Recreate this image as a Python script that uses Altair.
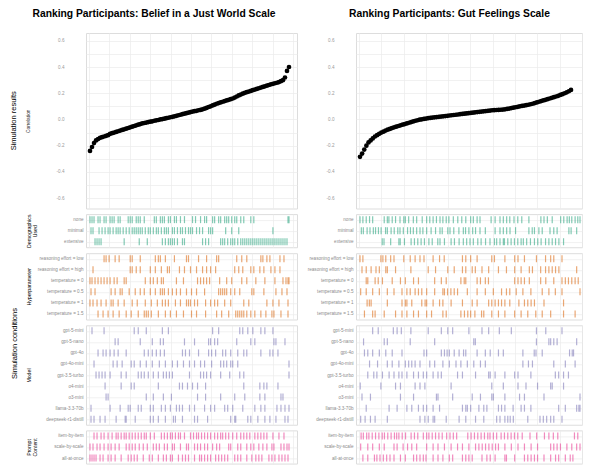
import altair as alt
import pandas as pd

TITLE_L = "Ranking Participants: Belief in a Just World Scale"
TITLE_R = "Ranking Participants: Gut Feelings Scale"

# correlation of each simulation, sorted (rank 1..100)
CORR_L = [-0.24, -0.21, -0.18, -0.16, -0.15, -0.14, -0.135, -0.13, -0.125, -0.12,
          -0.11, -0.105, -0.10, -0.095, -0.09, -0.085, -0.08, -0.075, -0.07, -0.065,
          -0.06, -0.055, -0.05, -0.045, -0.04, -0.035, -0.03, -0.027, -0.024, -0.02,
          -0.017, -0.014, -0.01, -0.007, -0.004, 0.0, 0.003, 0.006, 0.01, 0.013,
          0.017, 0.02, 0.024, 0.028, 0.032, 0.036, 0.04, 0.044, 0.048, 0.052,
          0.056, 0.06, 0.063, 0.066, 0.07, 0.073, 0.077, 0.082, 0.088, 0.095,
          0.10, 0.107, 0.113, 0.12, 0.125, 0.13, 0.135, 0.14, 0.145, 0.15,
          0.155, 0.16, 0.167, 0.175, 0.183, 0.19, 0.197, 0.203, 0.208, 0.213,
          0.218, 0.223, 0.228, 0.233, 0.238, 0.243, 0.248, 0.253, 0.258, 0.263,
          0.268, 0.272, 0.276, 0.28, 0.285, 0.292, 0.30, 0.32, 0.37, 0.40]

CORR_R = [-0.285, -0.26, -0.23, -0.20, -0.175, -0.16, -0.145, -0.13, -0.12, -0.11,
          -0.10, -0.093, -0.085, -0.078, -0.072, -0.066, -0.06, -0.055, -0.05, -0.045,
          -0.04, -0.035, -0.03, -0.025, -0.02, -0.015, -0.01, -0.006, -0.002, 0.001,
          0.004, 0.007, 0.01, 0.012, 0.014, 0.016, 0.018, 0.02, 0.022, 0.024,
          0.026, 0.028, 0.030, 0.032, 0.034, 0.036, 0.038, 0.040, 0.042, 0.044,
          0.046, 0.048, 0.050, 0.052, 0.054, 0.056, 0.058, 0.060, 0.062, 0.064,
          0.066, 0.068, 0.070, 0.071, 0.072, 0.073, 0.074, 0.075, 0.077, 0.08,
          0.083, 0.087, 0.09, 0.093, 0.096, 0.10, 0.103, 0.106, 0.109, 0.112,
          0.116, 0.12, 0.125, 0.13, 0.135, 0.14, 0.145, 0.15, 0.155, 0.16,
          0.165, 0.17, 0.175, 0.18, 0.187, 0.193, 0.20, 0.207, 0.215, 0.225]

Y_TICKS = [-0.6, -0.5, -0.4, -0.3, -0.2, -0.1, 0.0, 0.1, 0.2, 0.3, 0.4, 0.5, 0.6]

DEMO_CATS = ["none", "minimal", "extensive"]
HYPER_CATS = ["reasoning effort = low", "reasoning effort = high", "temperature = 0",
              "temperature = 0.5", "temperature = 1", "temperature = 1.5"]
MODEL_CATS = ["gpt-5-mini", "gpt-5-nano", "gpt-4o", "gpt-4o-mini", "gpt-3.5-turbo",
              "o4-mini", "o3-mini", "llama-3.3-70b", "deepseek-r1-distill"]
PROMPT_CATS = ["item-by-item", "scale-by-scale", "all-at-once"]

# rank positions of the simulations using each condition
L_DEMO = {
    "none": [1, 2, 3, 5, 6, 8, 9, 11, 12, 13, 15, 16, 20, 21, 22, 24, 25, 26, 28, 33, 34, 36, 37, 38,
             40, 41, 43, 44, 46, 48, 52, 53.5, 56, 58, 59, 62, 63, 65, 66, 68, 69, 70, 71.5, 73, 74,
             76, 77.5, 81, 82.5, 99.5, 100],
    "minimal": [1.5, 2.5, 5.5, 7, 8.5, 10, 11, 12.5, 14, 15, 16, 17.5, 19, 20.5, 22, 23, 24, 25, 26,
                27, 28.5, 30, 31, 32.5, 34, 35, 36.5, 38, 39, 40, 42, 43, 44.5, 46, 47, 48.5, 50, 51,
                52, 54, 55.5, 57, 60, 61, 62, 68.5, 71.5, 75, 92],
    "extensive": [3.5, 4.5, 5.5, 6.5, 18, 25.5, 29.5, 37, 38.5, 40, 41, 42, 43, 44.5, 47, 48, 57,
                  58.5, 60, 66, 67, 68, 69.5, 71, 72, 73, 74.5, 76, 77, 78, 79, 80, 81, 82, 83, 84,
                  85, 86, 87, 88, 89, 90, 91, 92, 93, 94, 95, 96, 97, 98, 99],
}
L_HYPER = {
    "reasoning effort = low": [8, 9, 10.5, 13.5, 15.5, 21, 22, 26, 33.5, 35, 36, 38.5, 43, 49, 50, 55,
                               59, 64, 65, 74, 76.5, 79, 86, 87, 89, 90.5, 95.5, 97.5],
    "reasoning effort = high": [2.5, 21, 22, 24, 26, 31, 33.5, 36.5, 39.5, 40.5, 45.5, 48, 51, 54, 57,
                                59, 61, 63.5, 73, 75, 77, 81, 82.5, 85.5, 87.5, 91, 93, 95.5],
    "temperature = 0": [1, 2, 3.5, 5, 6.5, 8, 9.5, 11, 13, 14.5, 18, 19, 28.5, 31, 32.5, 34.5, 36.5,
                        37.5, 44, 47.5, 54.5, 56, 57.5, 59, 60.5, 65.5, 69, 71.5, 76.5, 79, 83.5, 88,
                        93, 97, 98.5, 99.5, 100],
    "temperature = 0.5": [1.5, 3.5, 11.5, 13.5, 16, 17, 20.5, 23.5, 26, 28, 31, 33.5, 36, 37, 38, 40,
                          42, 44, 46, 49, 51.5, 54, 58, 65, 66, 67, 68, 69, 71, 73, 75.5, 81.5, 82.5,
                          87.5, 93.5, 96.5, 99],
    "temperature = 1": [1, 2.5, 4.5, 6.5, 9, 11.5, 12.5, 15, 18, 22, 24.5, 28.5, 31.5, 34.5, 37, 38.5,
                        40, 43.5, 46, 49, 50, 51, 53, 54.5, 58.5, 61, 63, 64.5, 68, 71, 77.5, 80, 89,
                        92, 95, 99.5],
    "temperature = 1.5": [5, 7.5, 10, 12.5, 15.5, 19, 21.5, 25, 28, 29, 30, 31.5, 35, 38.5, 41, 44,
                          47.5, 51.5, 54, 58.5, 64, 66.5, 70, 73.5, 74.5, 75.5, 76.5, 77.5, 79, 81,
                          83, 86, 88.5, 91.5, 92.5, 96, 99.5],
}
L_MODEL = {
    "gpt-5-mini": [2, 8, 23, 25, 29, 37, 40, 62, 65, 75.5, 77, 79.5, 82, 86, 88, 92],
    "gpt-5-nano": [13.5, 15, 26, 32, 36, 37.5, 48, 53, 60, 61, 63, 64.5, 74, 81, 83, 92.5, 93.5, 98],
    "gpt-4o": [5, 7.5, 9, 11, 13, 15, 19, 28, 30, 32, 34, 36, 38, 47, 48.5, 50.5, 55, 60, 61.5, 63.5,
               67, 68.5, 71, 74.5, 77.5, 79, 86, 90.5, 92, 94.5],
    "gpt-4o-mini": [3, 12.5, 14.5, 17, 21.5, 23, 26, 29, 32, 35.5, 38.5, 42, 44.5, 47.5, 50.5, 53, 56,
                    58, 61.5, 66, 67.5, 69, 71, 72, 74.5, 100],
    "gpt-3.5-turbo": [4, 5.5, 7, 8.5, 11, 16.5, 19, 25, 26.5, 28, 30, 32.5, 35, 37.5, 39, 40.5, 42,
                      50.5, 56, 57.5, 59, 61, 66, 70.5, 75.5, 77.5, 100],
    "o4-mini": [8.5, 16.5, 21.5, 23, 35, 45.5, 47, 49.5, 52, 54.5, 58.5, 77.5, 85.5, 87.5, 89, 94.5],
    "o3-mini": [9, 10, 29, 32.5, 37.5, 41.5, 54.5, 58.5, 66, 73, 78, 85.5, 88, 96, 97],
    "llama-3.3-70b": [1.5, 11, 16, 20, 21, 25, 26.5, 31, 32.5, 36.5, 38.5, 41, 44, 45.5, 47, 50.5, 53,
                      58, 61, 63, 68, 69.5, 72, 77, 83, 86, 88, 94, 96, 98, 100],
    "deepseek-r1-distill": [1.5, 3, 6, 8.5, 14, 18.5, 19, 23.5, 31, 32.5, 35, 38.5, 42.5, 43.5, 47,
                            53, 54.5, 59.5, 71, 73, 73.5, 79.5, 81, 84.5, 88, 90.5, 93.5, 98, 99.5],
}
L_PROMPT = {
    "item-by-item": [3, 4.5, 6.5, 8, 10, 12, 14, 15, 16.5, 18, 19, 20.5, 22, 23.5, 25, 26.5, 28, 29,
                     31, 33, 36.5, 38, 39.5, 41, 42, 43.5, 45, 46, 48, 51, 52.5, 54, 55, 56.5, 58,
                     59.5, 61, 63, 64.5, 66, 67, 68.5, 70, 72, 74, 76, 77.5, 79, 80.5, 83, 84.5, 86,
                     87.5, 89, 92, 95, 97.5],
    "scale-by-scale": [1, 2.5, 4.5, 6, 8, 10, 11.5, 13.5, 15.5, 19, 20.5, 22, 23.5, 25.5, 27.5, 29.5,
                       32.5, 34, 35.5, 38, 39.5, 42, 43, 46, 49, 50, 53, 54.5, 56, 58, 59.5, 62, 64,
                       65.5, 70, 71, 74.5, 76, 79, 81, 82.5, 85, 87, 89, 91.5, 92.5, 96, 97.5, 99, 100],
    "all-at-once": [1, 2, 3, 4, 6, 7.5, 10, 11.5, 13.5, 16.5, 20, 21.5, 23, 24.5, 27.5, 30.5, 32, 35,
                    37.5, 39, 41, 42, 45, 47, 48.5, 50, 53, 55.5, 56.5, 58, 59.5, 61, 63.5, 65, 66.5,
                    68, 69.5, 73, 74.5, 76, 79, 81.5, 83.5, 85, 86.5, 90, 91.5, 93, 95, 96.5, 98, 99.5],
}

R_DEMO = {
    "none": [1, 2.3, 3.8, 5.3, 6.7, 11.9, 13.3, 14, 15.5, 17, 19, 20.7, 21.4, 22.9, 25, 26.5, 29, 31,
             32.4, 33.9, 35.4, 37, 38.3, 39.8, 41, 43, 45, 46.8, 48.6, 50.8, 52, 53.7, 55, 60, 61.8,
             64, 65.5, 67, 68.4, 70.3, 72, 73.8, 77, 82.4, 83.8, 85.3, 87.5, 91.3, 92.7, 94.2, 95.2,
             96.3, 97.8, 99, 100],
    "minimal": [1.6, 2.5, 4.2, 5.5, 7, 8, 9.3, 10.5, 12.5, 13.3, 15, 16.4, 18, 19, 20.5, 22.4, 23.7,
                25, 26.5, 28, 29.3, 31, 33, 35, 37, 38, 40.5, 41.5, 43.2, 45.5, 47.5, 48.5, 50, 51.7,
                53, 55, 57.4, 61.8, 64, 65.5, 67, 68.5, 71, 77, 78.5, 79.5, 81.5, 83, 86.5, 88.2,
                89.7, 95, 96, 98.5],
    "extensive": [11, 11.8, 14.8, 18.5, 19.1, 21, 24, 25.5, 27, 28.5, 30, 32, 33.5, 36, 37, 39, 42,
                  43.5, 45.6, 47.5, 49, 50.5, 52, 54, 55.5, 57.5, 59.5, 61.5, 62.5, 64, 65.5, 66,
                  67.5, 69, 70.5, 72, 73.5, 74.5, 76, 77.7, 79.5, 81, 82.5, 84.5, 86, 87.5, 89, 90.5,
                  92.6],
}
R_HYPER = {
    "reasoning effort = low": [1, 2.3, 10.4, 11.3, 12.6, 14.8, 16.3, 20.7, 23.6, 25.8, 28, 29.8,
                               33.9, 36.8, 38.9, 47.1, 48.6, 50.8, 53.7, 60.3, 61.5, 66.2, 70.6, 72.1,
                               75, 80.4, 84.5, 86.8, 88.2, 91.9],
    "reasoning effort = high": [1.9, 3.8, 6, 8.2, 9.7, 12.6, 13.3, 17, 23.9, 31.7, 35, 40.5, 43.4,
                                47.1, 48.6, 51.5, 52.9, 55.9, 58.9, 63.3, 66.9, 70.6, 73.5, 77.2,
                                78.6, 82.3, 84.5, 86, 87.5, 89, 90.5, 98.5],
    "temperature = 0": [3.8, 4.5, 7.8, 9.2, 11.1, 15.5, 19.2, 21.4, 25.1, 27.3, 34.6, 37.6, 39.8,
                        46.4, 47.9, 48.6, 53.7, 55.2, 57.4, 58.8, 70.6, 72.1, 73.5, 75, 77.2, 82.3,
                        84.6, 88.2, 91.9, 93.4, 94.8, 96.3, 97.8, 99.2],
    "temperature = 0.5": [1.3, 3.8, 6.7, 9.7, 13.3, 16.3, 19.9, 22.1, 23.6, 25.8, 27.3, 28.8, 31,
                          34.6, 38.3, 39, 40.4, 41.9, 43.4, 44.9, 49.3, 53.7, 57.4, 61, 64.7, 66.9,
                          68.4, 71.3, 74.3, 77.9, 83, 86, 88.9, 91.9, 100],
    "temperature = 1": [4.2, 5.2, 6, 13.3, 19.9, 21.4, 22.1, 24.3, 28.8, 30.3, 31, 33.9, 36.8, 38.3,
                        42, 47.1, 51.5, 53.7, 58.9, 60.3, 61.8, 63.3, 64.7, 66.2, 68.4, 72.5, 75,
                        76.5, 78, 79.5, 83.8, 92.6],
    "temperature = 1.5": [3, 6.7, 7.8, 11.9, 17, 19.9, 22.1, 25.1, 27.3, 31, 33.2, 38.3, 39.8, 46.4,
                          48, 49.5, 50.8, 52.7, 55.7, 56.7, 60.3, 63.3, 66.2, 70.6, 73.5, 76.5, 80.1,
                          83, 86.8, 92.6, 97.8],
}
R_MODEL = {
    "gpt-5-mini": [6.7, 9.2, 16, 17.7, 19.6, 23.9, 31.7, 37.6, 40.5, 42.7, 50, 55.9, 58.9, 63.7,
                   69.1, 80.4, 84.6, 91.9],
    "gpt-5-nano": [2.6, 11.9, 13.3, 23.6, 34.6, 52.2, 52.9, 80.4, 86, 86.8, 88.2, 89.7, 98.5],
    "gpt-4o": [3, 4.5, 6.7, 9.7, 12.6, 15.5, 19.9, 29.8, 31, 37.6, 39, 40.2, 41.2, 43.4, 45.6, 47.6,
               48.6, 53.7, 57.4, 59.6, 63.3, 65.5, 74.3, 79.4, 80.2, 83, 95.3, 96.5, 97.1],
    "gpt-4o-mini": [5.3, 8.9, 13.3, 15.5, 18.5, 21.4, 22.9, 24.3, 25.8, 28, 32.4, 34.6, 38.3, 41.2,
                    44.2, 46.4, 49.3, 52.2, 55.2, 57.4, 74.3, 76.8, 78.6, 88.2, 93.4, 97.8],
    "gpt-3.5-turbo": [4.5, 7.2, 8.6, 11.1, 14.1, 16.3, 18.5, 19.9, 22.1, 25.1, 27.3, 29.5, 31, 33.9,
                      36.1, 37.6, 44.9, 47.1, 53, 58.9, 59.6, 61.8, 66.2, 70.6, 72.1, 77.9, 88.9,
                      90.4, 92.6, 94.8],
    "o4-mini": [1.1, 10.4, 17, 19.2, 25.8, 28, 30.2, 42, 60.3, 65.5, 72.1, 75.7, 80.9, 86.8, 87.5,
                92.6],
    "o3-mini": [1.9, 5.7, 19.2, 25.1, 35.4, 36.1, 42.7, 51.5, 55.2, 60.3, 61, 66.2, 72.8, 75, 83.8,
                100],
    "llama-3.3-70b": [3.8, 14.1, 17.7, 22.1, 24.3, 27.3, 29.5, 31, 33.9, 36.8, 47.1, 48.6, 49.3, 50.8,
                      54.5, 56.7, 58.1, 63.3, 64.7, 66.2, 69.9, 73.5, 75, 77.9, 90.4, 93.4, 98.5,
                      99.5, 100],
    "deepseek-r1-distill": [1.3, 3.3, 5.7, 7.8, 13.3, 28, 30.2, 31.7, 33.9, 34.6, 39.8, 45.6, 48.6,
                            53, 56.7, 62.5, 64, 66.2, 67.5, 68.6, 70, 76.5, 82, 83.5, 85, 86.8, 88.2,
                            91.9],
}
R_PROMPT = {
    "item-by-item": [1.5, 2.5, 4, 5, 6.5, 8, 9.5, 11, 12, 13.5, 15, 16.5, 17.5, 18.5, 20, 21.5, 24,
                     25.5, 27, 29.5, 31, 32, 33.5, 35, 36.5, 38, 40, 41.5, 43, 44.5, 49.5, 51, 52.5,
                     54, 55.5, 57, 58.5, 59.5, 61, 62.5, 64.5, 66, 67.5, 69, 70.5, 72, 74, 77.5, 80.5,
                     84, 86, 88, 90, 97.5, 99],
    "scale-by-scale": [1.3, 4.5, 6.7, 9.7, 11.9, 16.3, 17.7, 20.4, 22.4, 24.3, 26.5, 31, 33.9, 36.1,
                       39, 42, 44.9, 47.1, 50, 53, 54.5, 56, 57.5, 59, 60.5, 62, 63.3, 66.2, 69.1,
                       72.1, 75, 78, 80.9, 86.8, 88.2, 89.7, 91.2, 94.1, 96.3, 98.5, 100],
    "all-at-once": [2.3, 4.5, 7.5, 8.6, 10, 11.5, 13, 14.5, 16.3, 19.2, 21.4, 25.1, 26.5, 28, 29.5,
                    30.7, 33.9, 36.1, 38.3, 41.2, 42.7, 47.1, 48.6, 50, 51.5, 55.9, 58.1, 59.6, 61.8,
                    66.2, 66.9, 70.6, 75, 76.5, 78, 79.5, 80.9, 83.8, 86.8, 89, 90.4, 93.4, 95.6,
                    96.8],
}

GREEN, ORANGE, PURPLE, PINK = "#1b9e77", "#d95f02", "#7570b3", "#e7298a"
GRID = "#ebebeb"

# x scale settings (rank units)
DOM_L = [-0.99, 103.98]
DOM_RT = [-0.878, 105.16]
DOM_RB = [-0.8, 100.9]
GRID_L = [0.5 + 10.15 * k for k in range(11)]
GRID_RT = [0.53 + 10.46 * k for k in range(11)]
GRID_RB = [0.55 + 10.03 * k for k in range(11)]

W_L, W_R = 211, 226
H_TOP = 175.5
STEP = 11.05

LABEL_EXPR = ("abs(datum.value * 5 - round(datum.value * 5)) < 0.01 ? "
              "replace(format(datum.value, '.1f'), '\u2212', '-') : ''")


def scatter(vals, dom, grid_vals, title, title_x, left, width):
    df = pd.DataFrame({"rank": list(range(1, len(vals) + 1)), "corr": vals})
    ykw = dict(values=Y_TICKS, labelExpr=LABEL_EXPR, grid=True, gridColor=GRID, gridWidth=0.7,
               ticks=False, domain=False, labelFontSize=4.6, labelColor="#9a9a9a",
               labelPadding=22)
    if left:
        ykw.update(title="Correlation", titleX=-58, titleBaseline="middle", titleAngle=270,
                   titleFontSize=4.8, titleFontWeight="normal", titleColor="#333333")
    else:
        ykw.update(title=None)
    c = alt.Chart(df).mark_circle(size=22, color="black", opacity=1).encode(
        x=alt.X("rank:Q", scale=alt.Scale(domain=dom, nice=False, zero=False),
                axis=alt.Axis(orient="top", values=grid_vals, labels=False, ticks=False,
                              domain=False, grid=True, gridColor=GRID, gridWidth=0.7,
                              title=title, titleFontSize=10.3, titleFontWeight="bold",
                              titleColor="black", titleX=title_x, titlePadding=16.5,
                              titleAlign="center", titleBaseline="alphabetic", titleAngle=0)),
        y=alt.Y("corr:Q", scale=alt.Scale(domain=[-0.6793, 0.6595], nice=False, zero=False),
                axis=alt.Axis(**ykw)),
    )
    props = dict(width=width, height=H_TOP)
    if left:
        props["title"] = alt.TitleParams("Simulation results", orient="left", anchor="middle",
                                         frame="group", fontSize=7.5, fontWeight="normal",
                                         color="black", offset=8)
    return c.properties(**props)


def strip(d, cats, color, dom, grid_vals, width, group_title=None, big_title=False):
    rows = [{"rank": r, "cond": c} for c in cats for r in d[c]]
    df = pd.DataFrame(rows)
    ykw = dict(grid=True, gridColor=GRID, gridWidth=0.7, ticks=False, domain=False,
               labelFontSize=4.6, labelColor="#8c8c8c", labelPadding=3, labelLimit=200)
    if group_title is not None:
        ykw.update(title=group_title, titleX=-58, titleBaseline="middle", titleAngle=270,
                   titleFontSize=5.2, titleFontWeight="normal", titleColor="black",
                   titleLineHeight=6)
    else:
        ykw.update(title=None)
    c = alt.Chart(df).mark_tick(color=color, opacity=0.55, thickness=1.2, size=7).encode(
        x=alt.X("rank:Q", scale=alt.Scale(domain=dom, nice=False, zero=False),
                axis=alt.Axis(values=grid_vals, labels=False, ticks=False, domain=False,
                              grid=True, gridColor=GRID, gridWidth=0.7, title=None)),
        y=alt.Y("cond:N", scale=alt.Scale(type="point", padding=0.5, domain=cats),
                axis=alt.Axis(**ykw)),
    )
    props = dict(width=width, height=STEP * len(cats))
    if big_title:
        props["title"] = alt.TitleParams("Simulation conditions", orient="left", anchor="middle",
                                         frame="group", fontSize=7.5, fontWeight="normal",
                                         color="black", offset=8, dx=31.5)
    return c.properties(**props)


sL = scatter(CORR_L, DOM_L, GRID_L, TITLE_L, 67.5, True, W_L)
sR = scatter(CORR_R, DOM_RT, GRID_RT, TITLE_R, 93, False, W_R)

dL = strip(L_DEMO, DEMO_CATS, GREEN, DOM_L, GRID_L, W_L, ["Demographics", "Used"])
dR = strip(R_DEMO, DEMO_CATS, GREEN, DOM_RB, GRID_RB, W_R)
hL = strip(L_HYPER, HYPER_CATS, ORANGE, DOM_L, GRID_L, W_L, "Hyperparameter")
hR = strip(R_HYPER, HYPER_CATS, ORANGE, DOM_RB, GRID_RB, W_R)
mL = strip(L_MODEL, MODEL_CATS, PURPLE, DOM_L, GRID_L, W_L, "Model", big_title=True)
mR = strip(R_MODEL, MODEL_CATS, PURPLE, DOM_RB, GRID_RB, W_R)
pL = strip(L_PROMPT, PROMPT_CATS, PINK, DOM_L, GRID_L, W_L, ["Prompt", "Content"])
pR = strip(R_PROMPT, PROMPT_CATS, PINK, DOM_RB, GRID_RB, W_R)

chart = alt.concat(
    sL, sR, dL, dR, hL, hR, mL, mR, pL, pR,
    columns=2,
    spacing={"row": 5.1, "column": 59},
    bounds="flush",
    padding={"left": 1, "top": 0, "right": 0, "bottom": 0},
).configure_view(strokeWidth=0).configure(font="Liberation Sans", background="white")

chart.save("out.html", embed_options={"renderer": "svg", "actions": False})
